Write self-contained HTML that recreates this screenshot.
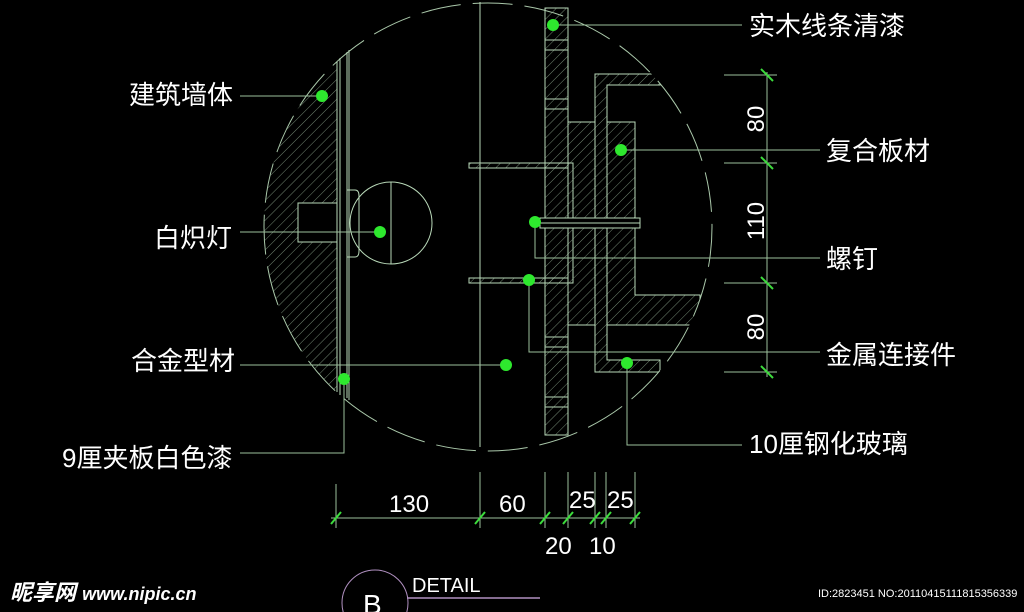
<!DOCTYPE html>
<html><head><meta charset="utf-8"><style>
html,body{margin:0;padding:0;background:#000;width:1024px;height:612px;overflow:hidden}
svg{display:block}
text{font-family:"Liberation Sans","Noto Sans CJK SC",sans-serif;fill:#fff}
</style></head><body>
<svg width="1024" height="612" viewBox="0 0 1024 612" xmlns="http://www.w3.org/2000/svg">
<defs>
<pattern id="h" width="7" height="7" patternUnits="userSpaceOnUse" patternTransform="rotate(45)">
<line x1="0" y1="0" x2="0" y2="7" stroke="#8fa88f" stroke-width="0.8"/></pattern>
<clipPath id="c"><circle cx="488" cy="227" r="224"/></clipPath>
</defs>
<g stroke="#b8d8b8" stroke-width="1" fill="none">
<circle cx="488" cy="227" r="224" stroke-dasharray="40 12" stroke="#aac8aa"/>
<g clip-path="url(#c)">
<rect x="250" y="40" width="87" height="370" fill="url(#h)" stroke="none"/>
</g>
<line x1="337" y1="62" x2="337" y2="392"/>
<line x1="340" y1="58" x2="340" y2="395"/>
<line x1="347" y1="52" x2="347" y2="398"/>
<line x1="349" y1="50" x2="349" y2="400"/>
<rect x="298" y="203" width="39" height="39" fill="#000"/>
<path d="M347 190 h8 q4 0 4 6 v55 q0 6 -4 6 h-8"/>
<circle cx="391" cy="223" r="41"/>
<line x1="391" y1="182" x2="391" y2="264"/>
<line x1="480" y1="2" x2="480" y2="447"/>
<rect x="545" y="8" width="23" height="427" fill="url(#h)"/>
<line x1="545" y1="40" x2="568" y2="40"/><line x1="545" y1="50" x2="568" y2="50"/>
<line x1="545" y1="99" x2="568" y2="99"/><line x1="545" y1="109" x2="568" y2="109"/>
<line x1="545" y1="337" x2="568" y2="337"/><line x1="545" y1="347" x2="568" y2="347"/>
<line x1="545" y1="397" x2="568" y2="397"/><line x1="545" y1="407" x2="568" y2="407"/>
<rect x="469" y="163" width="99" height="5" fill="url(#h)"/>
<rect x="469" y="278" width="99" height="5" fill="url(#h)"/>
<path d="M545 163 H573 V283 H545"/><path d="M545 168 H568 V278 H545"/>
<rect x="568" y="122" width="27" height="203" fill="url(#h)"/>
<g clip-path="url(#c)">
<path d="M595 74 H660 V85 H607 V360 H660 V372 H595 Z" fill="url(#h)"/>
<path d="M607 122 H635 V295 H700 V325 H607 Z" fill="url(#h)"/>
</g>
<rect x="540" y="218" width="100" height="10" fill="#000"/>
<line x1="535" y1="223" x2="640" y2="223"/>
</g>
<g stroke="#9cc09c" stroke-width="1" fill="none">
<line x1="240" y1="96" x2="322" y2="96"/>
<line x1="240" y1="232" x2="380" y2="232"/>
<line x1="240" y1="365" x2="506" y2="365"/>
<path d="M240 453 H344 V379"/>
<line x1="553" y1="25" x2="742" y2="25"/>
<line x1="621" y1="150" x2="820" y2="150"/>
<path d="M535 222 V258 H820"/>
<path d="M529 280 V352 H820"/>
<path d="M627 363 V445 H742"/>
<line x1="767" y1="72" x2="767" y2="377"/>
<line x1="724" y1="75" x2="777" y2="75"/>
<line x1="724" y1="163" x2="777" y2="163"/>
<line x1="724" y1="283" x2="777" y2="283"/>
<line x1="724" y1="372" x2="777" y2="372"/>
<line x1="331" y1="518" x2="640" y2="518"/>
<line x1="336" y1="484" x2="336" y2="528"/><line x1="480" y1="472" x2="480" y2="528"/>
<line x1="545" y1="472" x2="545" y2="528"/><line x1="568" y1="472" x2="568" y2="528"/>
<line x1="595" y1="472" x2="595" y2="528"/><line x1="606" y1="472" x2="606" y2="528"/>
<line x1="635" y1="472" x2="635" y2="528"/>
</g>
<g stroke="#3cdc3c" stroke-width="2">
<line x1="761" y1="69" x2="773" y2="81"/><line x1="761" y1="157" x2="773" y2="169"/>
<line x1="761" y1="277" x2="773" y2="289"/><line x1="761" y1="366" x2="773" y2="378"/>
<line x1="331" y1="524" x2="341" y2="512"/><line x1="475" y1="524" x2="485" y2="512"/>
<line x1="540" y1="524" x2="550" y2="512"/><line x1="563" y1="524" x2="573" y2="512"/>
<line x1="590" y1="524" x2="600" y2="512"/><line x1="601" y1="524" x2="611" y2="512"/>
<line x1="630" y1="524" x2="640" y2="512"/>
</g>
<g fill="#2ee82e">
<circle cx="322" cy="96" r="6"/><circle cx="380" cy="232" r="6"/><circle cx="344" cy="379" r="6"/>
<circle cx="506" cy="365" r="6"/><circle cx="553" cy="25" r="6"/><circle cx="621" cy="150" r="6"/>
<circle cx="535" cy="222" r="6"/><circle cx="529" cy="280" r="6"/><circle cx="627" cy="363" r="6"/>
</g>
<g font-size="26">
<text x="129" y="104">建筑墙体</text>
<text x="154" y="247">白炽灯</text>
<text x="131" y="370">合金型材</text>
<text x="62" y="467">9厘夹板白色漆</text>
<text x="749" y="35">实木线条清漆</text>
<text x="826" y="160">复合板材</text>
<text x="826" y="268">螺钉</text>
<text x="826" y="364">金属连接件</text>
<text x="749" y="453">10厘钢化玻璃</text>
</g>
<g font-size="24">
<text x="389" y="512">130</text><text x="499" y="512">60</text>
<text x="569" y="508">25</text><text x="607" y="508">25</text>
<text x="545" y="554">20</text><text x="589" y="554">10</text>
<text transform="translate(764 119) rotate(-90)" text-anchor="middle">80</text>
<text transform="translate(764 221) rotate(-90)" text-anchor="middle">110</text>
<text transform="translate(764 327) rotate(-90)" text-anchor="middle">80</text>
</g>
<circle cx="375" cy="603" r="33" fill="none" stroke="#b090c0" stroke-width="1"/>
<line x1="407" y1="598" x2="540" y2="598" stroke="#b090c0" stroke-width="1.5"/>
<text x="412" y="592" font-size="20">DETAIL</text>
<text x="363" y="614" font-size="28">B</text>
<text x="10" y="600" font-size="22" font-weight="bold" font-style="italic">昵享网 <tspan font-size="18">www.nipic.cn</tspan></text>
<text x="818" y="597" font-size="11">ID:2823451 NO:20110415111815356339</text>
</svg>
</body></html>
